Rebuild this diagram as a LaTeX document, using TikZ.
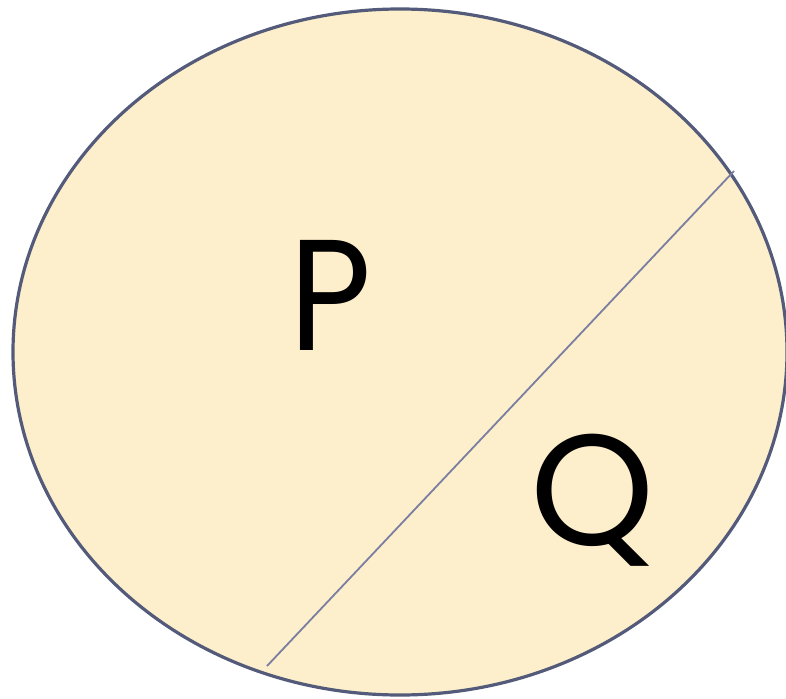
\documentclass[tikz,border=0pt]{standalone}
\usepackage{fontspec}
\setmainfont{Poppins}
\definecolor{fillc}{HTML}{FDEFCB}
\definecolor{edgec}{HTML}{535A7A}
\definecolor{linec}{HTML}{7A7EA2}
\begin{document}
\begin{tikzpicture}[x=1pt,y=-1pt,
  lbl/.style={font=\fontsize{158}{160}\selectfont, inner sep=0pt, anchor=base}]
\useasboundingbox (0,0) rectangle (786,698);
\draw[edgec, line width=3.2pt, fill=fillc] (400,352) ellipse [x radius=387, y radius=343];
\coordinate (a) at (267,666);
\coordinate (b) at (734,171);
\draw[linec, line width=1.8pt] (a) -- (b);
\node[lbl, xscale=0.9] (p) at (331,350) {P};
\node[lbl] (q) at (593,545) {Q};
\end{tikzpicture}
\end{document}
